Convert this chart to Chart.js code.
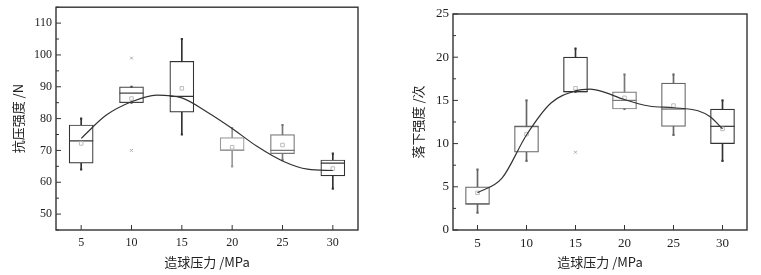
<!DOCTYPE html>
<html>
<head>
<meta charset="utf-8">
<script src="https://cdn.jsdelivr.net/npm/chart.js@4/dist/chart.umd.min.js"></script>
<style>
  body { margin: 0; background: #fff; overflow: hidden; }
  #left { position: absolute; left: 0; top: -6px; }
  #right { position: absolute; left: 380px; top: 0; }
</style>
</head>
<body>
<canvas id="left" width="380" height="281"></canvas>
<canvas id="right" width="381" height="275"></canvas>
<script>
var pressure = [5, 10, 15, 20, 25, 30];

// 抗压强度 (left)
var csMin = [64, 85, 75, 65, 67, 58];
var csQ1 = [66, 85, 82, 70, 69, 62];
var csMedian = [73, 88, 87, 70, 70, 66];
var csQ3 = [78, 90, 98, 74, 75, 67];
var csMax = [80, 90, 105, 77, 78, 69];
var csMean = [72.2, 86.3, 89.5, 71, 71.7, 64.3];
var csOutX = [10, 10];
var csOutY = [99, 70];
var csFitX = [5, 7.5, 10, 12.5, 15, 17.5, 20, 22.5, 25, 27.5, 30];
var csFitY = [73.8, 81.1, 85.3, 87.4, 86.5, 82.1, 76.9, 71.2, 66.7, 64.1, 63.7];
var csColors = ["#333", "#444", "#333", "#999", "#777", "#333"];

// 落下强度 (right)
var dsMin = [2, 8, 16, 14, 11, 8];
var dsQ1 = [3, 9, 16, 14, 12, 10];
var dsMedian = [3, 12, 16, 15, 14, 12];
var dsQ3 = [5, 12, 20, 16, 17, 14];
var dsMax = [7, 15, 21, 18, 18, 15];
var dsMean = [4.3, 11.1, 16.4, 15.3, 14.4, 11.7];
var dsOutX = [15];
var dsOutY = [9];
var dsFitX = [5, 7.5, 10, 12.5, 15, 16.5, 17.5, 20, 22.5, 25, 27.5, 28.75, 30];
var dsFitY = [4.3, 6.0, 11.0, 14.7, 16.1, 16.3, 16.1, 15.1, 14.35, 14.15, 13.8, 13.1, 11.7];
var dsColors = ["#666", "#666", "#333", "#777", "#666", "#333"];

function pts(xs, ys) {
  return xs.map((x, i) => ({ x: x, y: ys[i] }));
}

// frame + inward ticks
var framePlugin = {
  id: "frame",
  afterDraw(chart, args, opts) {
    var ctx = chart.ctx, a = chart.chartArea;
    var xs = chart.scales.x, ys = chart.scales.y;
    ctx.save();
    ctx.strokeStyle = "#333";
    ctx.lineWidth = 1;
    ys.ticks.forEach(t => {
      var y = ys.getPixelForValue(t.value);
      var len = (t.value % opts.yMajor === 0) ? 5 : 3;
      ctx.beginPath();
      ctx.moveTo(a.left, y);
      ctx.lineTo(a.left + len, y);
      ctx.stroke();
    });
    pressure.forEach(v => {
      var x = xs.getPixelForValue(v);
      ctx.beginPath();
      ctx.moveTo(x, a.bottom);
      ctx.lineTo(x, a.bottom - 5);
      ctx.stroke();
    });
    ctx.lineWidth = 1.4;
    ctx.strokeRect(a.left, a.top, a.right - a.left, a.bottom - a.top);
    ctx.restore();
  }
};

function makeChart(id, d) {
  new Chart(id, {
    data: {
      datasets: [
        {
          type: "bar",
          data: pressure.map((x, i) => ({ x: x, y: [d.min[i], d.max[i]] })),
          backgroundColor: d.colors,
          barThickness: 1,
          grouped: false,
          order: 6
        },
        {
          type: "bar",
          data: pressure.map((x, i) => ({ x: x, y: [d.q1[i], d.q3[i]] })),
          backgroundColor: "#fff",
          borderColor: d.colors,
          borderWidth: 1.2,
          borderSkipped: false,
          barThickness: 24,
          grouped: false,
          order: 5
        },
        {
          type: "scatter",
          data: pts(pressure, d.median),
          pointStyle: "line",
          radius: 12,
          borderColor: d.colors,
          borderWidth: 1.2,
          order: 4
        },
        {
          type: "scatter",
          data: pts(pressure, d.min).concat(pts(pressure, d.max)),
          pointStyle: "rect",
          radius: 1.5,
          backgroundColor: d.colors.concat(d.colors),
          borderWidth: 0,
          order: 3
        },
        {
          type: "scatter",
          data: pts(pressure, d.mean),
          pointStyle: "rect",
          radius: 2.5,
          backgroundColor: "rgba(255,255,255,0)",
          borderColor: "#bbb",
          borderWidth: 1,
          order: 2
        },
        {
          type: "scatter",
          data: pts(d.outX, d.outY),
          pointStyle: "crossRot",
          radius: 2,
          borderColor: "#aaa",
          borderWidth: 1,
          order: 2
        },
        {
          type: "line",
          data: pts(d.fitX, d.fitY),
          borderColor: "#333",
          borderWidth: 1.2,
          pointRadius: 0,
          fill: false,
          cubicInterpolationMode: "monotone",
          order: 1
        }
      ]
    },
    options: {
      responsive: false,
      animation: false,
      layout: { padding: { top: d.padTop, right: d.padRight, left: 0, bottom: 0 } },
      plugins: {
        legend: { display: false },
        tooltip: { enabled: false },
        frame: { yMajor: d.yMajor }
      },
      scales: {
        x: {
          type: "linear",
          offset: false,
          min: 2.5,
          max: 32.5,
          afterFit: s => { s.height = 45; },
          afterBuildTicks: s => { s.ticks = pressure.map(v => ({ value: v })); },
          grid: { display: false, drawTicks: false, offset: false },
          border: { display: false },
          ticks: { padding: 6, autoSkip: false, color: "#222", font: { family: "Liberation Serif", size: d.tickSize } },
          title: {
            display: true,
            text: "造球压力 /MPa",
            color: "#222",
            font: { family: "Noto Sans CJK SC", size: 13 },
            padding: { top: 0, bottom: 5 }
          }
        },
        y: {
          min: d.yMin,
          max: d.yMax,
          afterFit: s => { s.width = d.yWidth; },
          grid: { display: false, drawTicks: false },
          border: { display: false },
          ticks: {
            stepSize: d.yMinor,
            autoSkip: false,
            padding: 4,
            color: "#222",
            font: { family: "Liberation Serif", size: d.tickSize },
            callback: v => (v % d.yMajor === 0 && v <= d.yLabelMax) ? v : ""
          },
          title: {
            display: true,
            text: d.title,
            color: "#222",
            font: { family: "Noto Sans CJK SC", size: 13 },
            padding: { top: d.titlePad, bottom: 0 }
          }
        }
      }
    },
    plugins: [framePlugin]
  });
}

makeChart("left", {
  min: csMin, q1: csQ1, median: csMedian, q3: csQ3, max: csMax, mean: csMean,
  outX: csOutX, outY: csOutY, fitX: csFitX, fitY: csFitY, colors: csColors,
  yMin: 45, yMax: 115, yMajor: 10, yMinor: 5, yLabelMax: 110,
  title: "抗压强度 /N", titlePad: 10, yWidth: 56, padTop: 6, padRight: 22, tickSize: 12
});

makeChart("right", {
  min: dsMin, q1: dsQ1, median: dsMedian, q3: dsQ3, max: dsMax, mean: dsMean,
  outX: dsOutX, outY: dsOutY, fitX: dsFitX, fitY: dsFitY, colors: dsColors,
  yMin: 0, yMax: 25, yMajor: 5, yMinor: 2.5, yLabelMax: 25,
  title: "落下强度 /次", titlePad: 30, yWidth: 73, padTop: 14, padRight: 14, tickSize: 13
});
</script>
</body>
</html>
